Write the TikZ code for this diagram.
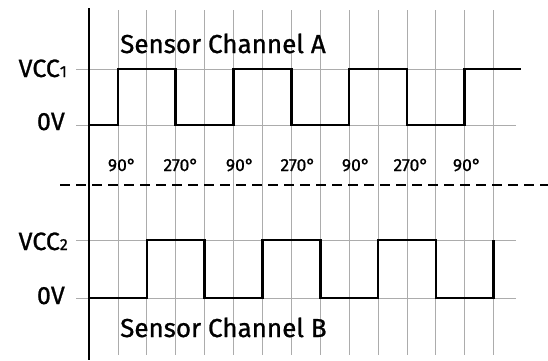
\documentclass[tikz,border=0pt]{standalone}
\usepackage{fontspec}
\setmainfont{Fira Sans}
\newfontfamily\medfont{Fira Sans}[FakeBold=0.9]
\begin{document}
\begin{tikzpicture}[x=1pt,y=-1pt,
  gridline/.style={gray!65, line width=0.8pt},
  axisline/.style={black, line width=1.2pt},
  sig/.style={black, line width=2.6pt, line join=miter, line cap=butt},
  sep/.style={black, line width=2.6pt, dash pattern=on 10pt off 6pt},
  lvl/.style={font=\medfont\fontsize{25}{28}\selectfont, anchor=base east, inner sep=0},
  deg/.style={font=\medfont\fontsize{17.5}{20}\selectfont, anchor=base, inner sep=0},
  ttl/.style={font=\medfont\fontsize{26}{30}\selectfont, anchor=base west, inner sep=0}]
\useasboundingbox (0,0) rectangle (548,360);
\fill[white] (0,0) rectangle (548,360);
% grid
\foreach \k in {1,...,14} \draw[gridline] ({89+28.9*\k},10) -- ({89+28.9*\k},355);
\foreach \y in {69,125,240,298} \draw[gridline] (76,\y) -- (516,\y);
\draw[axisline] (89,8) -- (89,360);
% separator
\draw[sep] (60,185) -- (548,185);
% channel A
\draw[sig] (89,125) -- (117.9,125) -- (117.9,69) -- (175.7,69) -- (175.7,125) -- (233.5,125)
  -- (233.5,69) -- (291.3,69) -- (291.3,125) -- (349.1,125) -- (349.1,69) -- (406.9,69)
  -- (406.9,125) -- (464.7,125) -- (464.7,69) -- (521,69);
% channel B
\draw[sig] (89,298) -- (146.8,298) -- (146.8,240) -- (204.6,240) -- (204.6,298) -- (262.4,298)
  -- (262.4,240) -- (320.2,240) -- (320.2,298) -- (378,298) -- (378,240) -- (435.8,240)
  -- (435.8,298) -- (493.6,298) -- (493.6,240);
% labels
\node[ttl] (ta) at (120,53) {Sensor Channel A};
\node[ttl] (tb) at (120,337) {Sensor Channel B};
\node[lvl] (v1) at (67,77) {VCC{\fontsize{16}{16}\selectfont 1}};
\node[lvl] (z1) at (65,130) {0V};
\node[lvl] (v2) at (68,250) {VCC{\fontsize{16}{16}\selectfont 2}};
\node[lvl] (z2) at (65,304) {0V};
\node[deg] (d1) at (122,171) {90°};
\node[deg] (d2) at (181,171) {270°};
\node[deg] (d3) at (240,171) {90°};
\node[deg] (d4) at (298,171) {270°};
\node[deg] (d5) at (356,171) {90°};
\node[deg] (d6) at (411,171) {270°};
\node[deg] (d7) at (467,171) {90°};
\end{tikzpicture}
\end{document}
